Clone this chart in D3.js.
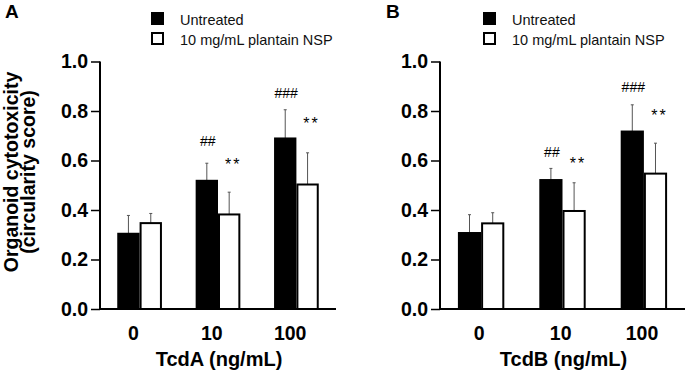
<!DOCTYPE html>
<html>
<head>
<meta charset="utf-8">
<script src="https://cdn.jsdelivr.net/npm/d3@7/dist/d3.min.js"></script>
<style>
  html, body { margin: 0; padding: 0; background: #fff; }
  svg { display: block; font-family: "Liberation Sans", Arial, sans-serif; }
</style>
</head>
<body>
<svg id="chart" width="692" height="375"></svg>
<script>
// ---------- DATA ----------
const categories = ["0", "10", "100"];
const seriesNames = ["Untreated", "10 mg/mL plantain NSP"];
const yTicks = [0.0, 0.2, 0.4, 0.6, 0.8, 1.0];

// Panel A (TcdA)
const tcdAUntreated = [0.304, 0.518, 0.689];
const tcdAUntreatedErr = [0.074, 0.071, 0.116];
const tcdANSP = [0.347, 0.382, 0.503];
const tcdANSPErr = [0.039, 0.090, 0.128];
const tcdAHash = ["", "##", "###"];
const tcdAStars = ["", "**", "**"];

// Panel B (TcdB)
const tcdBUntreated = [0.307, 0.521, 0.717];
const tcdBUntreatedErr = [0.074, 0.047, 0.108];
const tcdBNSP = [0.346, 0.396, 0.547];
const tcdBNSPErr = [0.043, 0.114, 0.123];
const tcdBHash = ["", "##", "###"];
const tcdBStars = ["", "**", "**"];

const panels = [
  { label: "A", xTitle: "TcdA (ng/mL)", untreated: tcdAUntreated, untreatedErr: tcdAUntreatedErr,
    nsp: tcdANSP, nspErr: tcdANSPErr, hash: tcdAHash, stars: tcdAStars,
    x0: 100, x1: 336, labelFrac: 0.36, labelX: 5, legendX: 151, yTitle: true,
    hashOff: [0, 22, 17], starOff: [0, 32, 33] },
  { label: "B", xTitle: "TcdB (ng/mL)", untreated: tcdBUntreated, untreatedErr: tcdBUntreatedErr,
    nsp: tcdBNSP, nspErr: tcdBNSPErr, hash: tcdBHash, stars: tcdBStars,
    x0: 440, x1: 685, labelFrac: 0.46, labelX: 386, legendX: 483, yTitle: false,
    hashOff: [0, 16, 18], starOff: [0, 23, 32] }
];

// ---------- DRAW ----------
const svg = d3.select("#chart");
const yTop = 61.5, yBottom = 309;
const y = d3.scaleLinear().domain([0, 1]).range([yBottom, yTop]);

panels.forEach(p => {
  const g = svg.append("g");
  const x = d3.scaleBand().domain(categories).range([p.x0, p.x1])
    .paddingInner(0.43).paddingOuter(0.22);
  const xs = d3.scaleBand().domain([0, 1]).range([0, x.bandwidth()]);

  const rows = categories.map((c, i) => ({
    c, i,
    vals: [
      { s: 0, v: p.untreated[i], e: p.untreatedErr[i] },
      { s: 1, v: p.nsp[i], e: p.nspErr[i] }
    ]
  }));

  // error bars (upward only)
  rows.forEach(r => {
    r.vals.forEach(d => {
      const cx = x(r.c) + xs(d.s) + xs.bandwidth() / 2;
      g.append("line").attr("x1", cx).attr("x2", cx)
        .attr("y1", y(d.v)).attr("y2", y(d.v + d.e))
        .attr("stroke", "#555").attr("stroke-width", 1);
      g.append("line").attr("x1", cx - 1.5).attr("x2", cx + 1.5)
        .attr("y1", y(d.v + d.e)).attr("y2", y(d.v + d.e))
        .attr("stroke", "#555").attr("stroke-width", 1);
    });
  });

  // bars
  rows.forEach(r => {
    r.vals.forEach(d => {
      g.append("rect")
        .attr("x", x(r.c) + xs(d.s) + 1)
        .attr("y", y(d.v))
        .attr("width", xs.bandwidth() - 2)
        .attr("height", y(0) - y(d.v))
        .attr("fill", d.s === 0 ? "#000" : "#fff")
        .attr("stroke", "#000").attr("stroke-width", 2);
    });
  });

  // significance annotations
  rows.forEach(r => {
    const u = r.vals[0], n = r.vals[1];
    if (p.hash[r.i]) {
      g.append("text")
        .attr("x", x(r.c) + xs(0) + xs.bandwidth() / 2 + 1)
        .attr("y", y(u.v + u.e) - p.hashOff[r.i])
        .attr("text-anchor", "middle").attr("dominant-baseline", "central")
        .attr("font-size", 14).attr("fill", "#000").text(p.hash[r.i]);
    }
    if (p.stars[r.i]) {
      g.append("text")
        .attr("x", x(r.c) + xs(1) + xs.bandwidth() / 2 + 4)
        .attr("y", y(n.v + n.e) - p.starOff[r.i] + 4)
        .attr("text-anchor", "middle").attr("dominant-baseline", "central")
        .attr("font-size", 16).attr("letter-spacing", 2).attr("fill", "#000").text(p.stars[r.i]);
    }
  });

  // y axis
  const yAxis = d3.axisLeft(y).tickValues(yTicks).tickFormat(d3.format(".1f"))
    .tickSizeInner(9).tickSizeOuter(0).tickPadding(3);
  const ya = g.append("g").attr("transform", `translate(${p.x0},0)`).call(yAxis);
  ya.select(".domain").attr("stroke", "#000").attr("stroke-width", 2)
    .attr("d", `M0,${yTop}V${yBottom + 1}`);
  ya.selectAll(".tick line").attr("stroke", "#000").attr("stroke-width", 1.5);
  ya.selectAll(".tick text").attr("font-size", 19.5).attr("font-weight", "bold")
    .attr("fill", "#000").attr("font-family", "Liberation Sans, Arial, sans-serif");

  // x axis line
  g.append("line").attr("x1", p.x0).attr("x2", p.x1)
    .attr("y1", yBottom).attr("y2", yBottom)
    .attr("stroke", "#000").attr("stroke-width", 2);

  // x tick labels
  g.selectAll(".xl").data(categories).enter().append("text")
    .attr("x", d => x(d) + x.bandwidth() * p.labelFrac)
    .attr("y", 340)
    .attr("text-anchor", "middle")
    .attr("font-size", 19.5).attr("font-weight", "bold").attr("fill", "#000")
    .text(d => d);

  // x title
  g.append("text")
    .attr("x", (p.x0 + p.x1) / 2 + 1)
    .attr("y", 366)
    .attr("text-anchor", "middle")
    .attr("font-size", 20).attr("font-weight", "bold").attr("fill", "#000")
    .text(p.xTitle);

  // panel label
  g.append("text").attr("x", p.labelX).attr("y", 18)
    .attr("font-size", 19).attr("font-weight", "bold").attr("fill", "#000")
    .text(p.label);

  // legend
  seriesNames.forEach((s, i) => {
    const ly = 12 + i * 20;
    g.append("rect").attr("x", p.legendX + 1).attr("y", ly + 1)
      .attr("width", 11).attr("height", 11)
      .attr("fill", i === 0 ? "#000" : "#fff")
      .attr("stroke", "#000").attr("stroke-width", 2);
    g.append("text").attr("x", p.legendX + 29).attr("y", ly + 13)
      .attr("font-size", 14.5).attr("fill", "#111").text(s);
  });

  // y title
  if (p.yTitle) {
    const t = g.append("text")
      .attr("transform", "translate(18,172) rotate(-90)")
      .attr("text-anchor", "middle")
      .attr("font-size", 19.5).attr("font-weight", "bold").attr("fill", "#000");
    t.append("tspan").attr("x", 0).attr("y", 0).text("Organoid cytotoxicity");
    t.append("tspan").attr("x", 0).attr("y", 16.5).text("(circularity score)");
  }
});
</script>
</body>
</html>
